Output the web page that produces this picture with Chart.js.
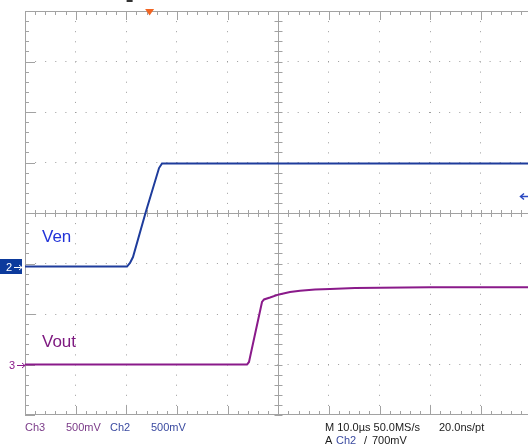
<!DOCTYPE html>
<html><head><meta charset="utf-8">
<script src="https://cdn.jsdelivr.net/npm/chart.js@4.4.0/dist/chart.umd.min.js"></script>
<style>html,body{margin:0;padding:0;background:#fff;}#wrap{width:528px;height:448px;position:relative;overflow:hidden;}</style>
</head><body><div id="wrap"><canvas id="c" width="528" height="448"></canvas></div>
<script>
// ---- data (time in µs from left screen edge, values in volts) ----
const ch2Time  = [0, 20.14, 20.73, 21.32, 23.83, 26.46, 27.05, 99.3];
const ch2Volts = [0, 0, 0.035, 0.094, 0.537, 0.975, 1.02, 1.02];
const ch3Time  = [0, 43.83, 44.22, 46.79, 47.19, 48.37, 50.15, 52.32, 54.29, 57.26, 60.22, 65.15, 70.09, 79.96, 99.3];
const ch3Volts = [0, 0, 0.025, 0.619, 0.644, 0.663, 0.694, 0.718, 0.731, 0.743, 0.748, 0.757, 0.760, 0.764, 0.764];
const ch2VoltsPerDiv = 0.5, ch3VoltsPerDiv = 0.5;
const ch2OffsetDiv = -1.06, ch3OffsetDiv = -3.0;
const timeMax = 99.3, timePerDiv = 10;
const triggerTime = 24.6, triggerLevel = 0.7;
const traceLabels = ['Ven', 'Vout'];
const statusRow1 = ['Ch3', '500mV', 'Ch2', '500mV'];
const statusRight1 = ['M 10.0µs 50.0MS/s', '20.0ns/pt'];
const statusRight2 = ['A', 'Ch2', '/', '700mV'];

const blue = '#1e3c9c', purple = '#8a1a8a', gridC = '#9c9c9c', frameC = '#a2a2a2';

function toPts(t, v, vpd, off) { return t.map((x, i) => ({x: x, y: off + v[i] / vpd})); }

const scopePlugin = {
  id: 'scope',
  beforeDatasetsDraw(chart) {
    const {ctx, chartArea: a, scales: {x, y}} = chart;
    ctx.save();
    ctx.strokeStyle = frameC; ctx.lineWidth = 1;
    ctx.beginPath();
    ctx.moveTo(a.left, a.top + 0.5); ctx.lineTo(a.right, a.top + 0.5);
    ctx.moveTo(a.left, a.bottom - 0.5); ctx.lineTo(a.right, a.bottom - 0.5);
    ctx.moveTo(a.left + 0.5, a.top); ctx.lineTo(a.left + 0.5, a.bottom);
    const cx = Math.round(x.getPixelForValue(50)) + 0.5;
    const cy = Math.round(y.getPixelForValue(0)) + 0.5;
    ctx.moveTo(cx, a.top); ctx.lineTo(cx, a.bottom);
    ctx.moveTo(a.left, cy); ctx.lineTo(a.right, cy);
    for (let k = 0; k * 2 <= timeMax; k++) {
      const t = k * 2;
      const px = Math.round(x.getPixelForValue(t)) + 0.5;
      const major = (k % 5 === 0);
      const len = major ? 9 : 4;
      ctx.moveTo(px, a.top); ctx.lineTo(px, a.top + len);
      ctx.moveTo(px, a.bottom); ctx.lineTo(px, a.bottom - len);
      ctx.moveTo(px, cy - 3.5); ctx.lineTo(px, cy + 3.5);
    }
    for (let k = -20; k <= 20; k++) {
      const py = Math.round(y.getPixelForValue(k / 5)) + 0.5;
      const major = (k % 5 === 0);
      const len = major ? 10 : 4;
      ctx.moveTo(a.left, py); ctx.lineTo(a.left + len, py);
      ctx.moveTo(cx - 4, py); ctx.lineTo(cx + 4, py);
    }
    ctx.stroke();
    ctx.restore();
  },
  afterDraw(chart) {
    const {ctx, chartArea: a, scales: {x, y}} = chart;
    ctx.save();
    ctx.font = '17px "Liberation Sans", Arial, sans-serif';
    ctx.textBaseline = 'alphabetic';
    ctx.fillStyle = '#2233d8'; ctx.fillText(traceLabels[0], 42, 242);
    ctx.fillStyle = '#7e1a80'; ctx.fillText(traceLabels[1], 42, 347);
    const g2 = Math.round(y.getPixelForValue(ch2OffsetDiv));
    ctx.fillStyle = '#0c3a9c'; ctx.fillRect(0, g2 - 8, 22, 15);
    ctx.font = '11px "Liberation Sans", Arial, sans-serif';
    ctx.textAlign = 'center';
    ctx.fillStyle = '#ffffff'; ctx.fillText('2', 9, g2 + 4);
    ctx.strokeStyle = '#ffffff'; ctx.lineWidth = 1;
    ctx.beginPath(); ctx.moveTo(14, g2 + 0.5); ctx.lineTo(22, g2 + 0.5); ctx.stroke();
    ctx.beginPath(); ctx.moveTo(19, g2 - 2); ctx.lineTo(22, g2 + 0.5); ctx.lineTo(19, g2 + 3); ctx.stroke();
    const g3 = Math.round(y.getPixelForValue(ch3OffsetDiv));
    ctx.fillStyle = purple; ctx.fillText('3', 12, g3 + 4);
    ctx.strokeStyle = purple;
    ctx.beginPath(); ctx.moveTo(17, g3 + 0.5); ctx.lineTo(25, g3 + 0.5); ctx.stroke();
    ctx.beginPath(); ctx.moveTo(22, g3 - 2); ctx.lineTo(25, g3 + 0.5); ctx.lineTo(22, g3 + 3); ctx.stroke();
    const tx = x.getPixelForValue(triggerTime);
    ctx.fillStyle = '#f26522';
    ctx.beginPath(); ctx.moveTo(tx - 4.5, a.top - 2); ctx.lineTo(tx + 4.5, a.top - 2); ctx.lineTo(tx, a.top + 4.5); ctx.closePath(); ctx.fill();
    ctx.fillStyle = '#333'; ctx.fillRect(tx - 23, 0, 6, 2);
    const ty = Math.round(y.getPixelForValue(ch2OffsetDiv + triggerLevel / ch2VoltsPerDiv)) + 0.5;
    ctx.strokeStyle = '#2a48c0'; ctx.lineWidth = 1.5;
    ctx.beginPath(); ctx.moveTo(521, ty); ctx.lineTo(528, ty); ctx.stroke();
    ctx.beginPath(); ctx.moveTo(524, ty - 3); ctx.lineTo(520.5, ty); ctx.lineTo(524, ty + 3); ctx.stroke();
    ctx.textAlign = 'left';
    ctx.font = '11px "Liberation Sans", Arial, sans-serif';
    ctx.fillStyle = '#7a3a88'; ctx.fillText(statusRow1[0], 25, 431); ctx.fillText(statusRow1[1], 66, 431);
    ctx.fillStyle = '#3a4aa0'; ctx.fillText(statusRow1[2], 110, 431); ctx.fillText(statusRow1[3], 151, 431);
    ctx.fillStyle = '#1a1a1a'; ctx.fillText(statusRight1[0], 325, 431); ctx.fillText(statusRight1[1], 439, 431);
    ctx.fillText(statusRight2[0], 325, 444);
    ctx.fillStyle = '#3a4aa0'; ctx.fillText(statusRight2[1], 336, 444);
    ctx.fillStyle = '#1a1a1a'; ctx.fillText(statusRight2[2], 364, 444); ctx.fillText(statusRight2[3], 372, 444);
    ctx.restore();
  }
};

new Chart(document.getElementById('c'), {
  type: 'line',
  data: {
    datasets: [
      {label: 'Ch2', data: toPts(ch2Time, ch2Volts, ch2VoltsPerDiv, ch2OffsetDiv), borderColor: blue, borderWidth: 2, pointRadius: 0, tension: 0},
      {label: 'Ch3', data: toPts(ch3Time, ch3Volts, ch3VoltsPerDiv, ch3OffsetDiv), borderColor: purple, borderWidth: 2, pointRadius: 0, tension: 0}
    ]
  },
  options: {
    responsive: false, animation: false, parsing: true,
    layout: {padding: {left: 25, top: 11, right: 0, bottom: 33}},
    plugins: {legend: {display: false}, tooltip: {enabled: false}},
    scales: {
      x: {type: 'linear', min: 0, max: timeMax,
          ticks: {display: false, stepSize: timePerDiv},
          grid: {drawTicks: false, color: (c) => (c.tick && (c.tick.value === 50 || c.tick.value === 0)) ? 'rgba(0,0,0,0)' : gridC},
          border: {display: false, dash: [1, 9.1]}},
      y: {type: 'linear', min: -4, max: 4,
          ticks: {display: false, stepSize: 1},
          grid: {drawTicks: false, color: (c) => (c.tick && (c.tick.value === 0 || c.tick.value === 4 || c.tick.value === -4)) ? 'rgba(0,0,0,0)' : gridC},
          border: {display: false, dash: [1, 9.1]}}
    }
  },
  plugins: [scopePlugin]
});
</script></body></html>
